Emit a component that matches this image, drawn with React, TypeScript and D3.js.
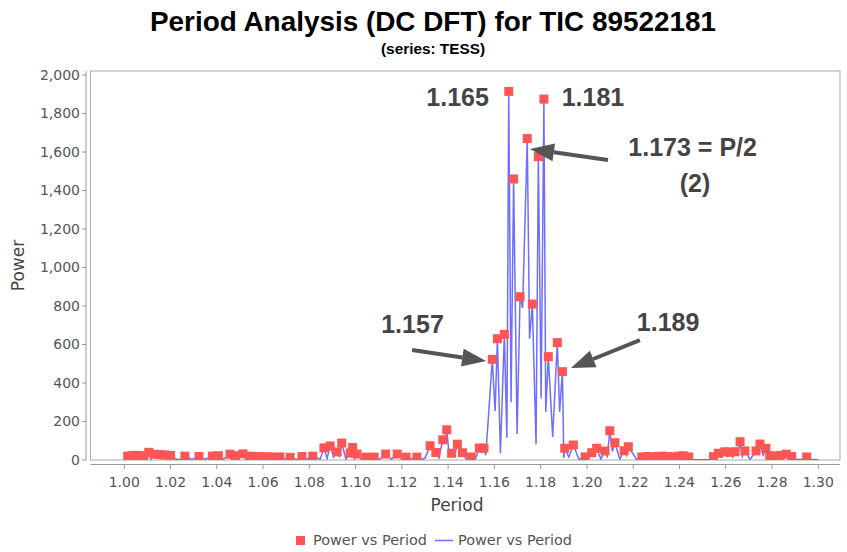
import React from 'react';
import { scaleLinear, line, curveLinear, range } from 'd3';

// top hits (red squares): [period, power]
const peaks: [number, number][] = [
  [1.0015, 20], [1.0038, 24], [1.0061, 24], [1.0084, 22], [1.0106, 40], [1.0129, 30], [1.0152, 28],
  [1.0175, 26], [1.02, 24], [1.0262, 20], [1.0323, 18], [1.0381, 20], [1.0407, 22], [1.0457, 30],
  [1.0478, 22], [1.0513, 32], [1.054, 20], [1.0565, 18], [1.059, 18], [1.0613, 16], [1.0636, 16],
  [1.0673, 16], [1.0717, 14], [1.0768, 18], [1.0815, 20], [1.0863, 63], [1.089, 73], [1.092, 42],
  [1.094, 88], [1.0976, 36], [1.0987, 65], [1.1006, 31], [1.1045, 15], [1.108, 15], [1.113, 31],
  [1.118, 31], [1.1218, 15], [1.1265, 15],
  [1.1322, 74], [1.1347, 39], [1.1377, 105], [1.1394, 157], [1.1415, 35], [1.144, 82], [1.1462, 38],
  [1.15, 16], [1.1535, 62], [1.1555, 62], [1.1591, 523], [1.1613, 630], [1.1643, 653], [1.1662, 1915],
  [1.1683, 1460], [1.1711, 848], [1.1742, 1670], [1.1764, 810], [1.179, 1576], [1.1814, 1875],
  [1.1833, 537], [1.1872, 610], [1.1894, 459], [1.1904, 61], [1.1941, 78], [1.1992, 16], [1.2021, 38],
  [1.2042, 61], [1.2078, 47], [1.2099, 152], [1.2121, 90], [1.2161, 48], [1.2179, 69],
  [1.2237, 16], [1.226, 18], [1.2282, 16], [1.2305, 18], [1.2327, 20], [1.235, 18], [1.2372, 16],
  [1.2395, 20], [1.2417, 22], [1.244, 16],
  [1.2547, 17], [1.2568, 35], [1.2597, 43], [1.2618, 40], [1.264, 43], [1.2662, 95], [1.2683, 47],
  [1.2731, 47], [1.2748, 83], [1.2774, 61], [1.279, 22], [1.2812, 20], [1.2835, 24], [1.2862, 30],
  [1.2885, 18], [1.295, 16],
];

// periodogram points between the hits (only on the blue line)
const troughs: [number, number][] = [
  [1.0, 12], [1.0027, 10], [1.005, 12], [1.0073, 10], [1.0095, 8], [1.0115, 4], [1.014, 12],
  [1.0163, 10], [1.0188, 8], [1.0227, 3], [1.0242, 2], [1.0292, 3], [1.035, 4], [1.0394, 8],
  [1.043, 5], [1.0468, 10], [1.0495, 4], [1.0527, 10], [1.0553, 6], [1.0578, 8], [1.0602, 6],
  [1.0625, 8], [1.0655, 4], [1.0695, 5], [1.0745, 3], [1.079, 6], [1.0847, 4], [1.0877, 8],
  [1.0905, 15], [1.093, 20], [1.0958, 5], [1.0982, 20], [1.0996, 8], [1.1025, 4], [1.1062, 5],
  [1.1105, 4], [1.1155, 5], [1.12, 4], [1.124, 5], [1.128, 2], [1.13, 10],
  [1.1335, 40], [1.136, 10], [1.1386, 90], [1.1405, 20], [1.1428, 30], [1.1452, 20], [1.1478, 5],
  [1.1518, 5], [1.1545, 40], [1.1562, 25], [1.157, 150], [1.1603, 255], [1.1626, 35], [1.1654, 115],
  [1.1672, 300], [1.1698, 135], [1.1722, 790], [1.1752, 630], [1.178, 80], [1.1802, 320],
  [1.1822, 250], [1.1852, 120], [1.1882, 250], [1.19, 12], [1.1922, 15], [1.1966, 3], [1.2005, 8],
  [1.2032, 20], [1.206, 5], [1.2088, 20], [1.211, 45], [1.2142, 5], [1.217, 25], [1.2215, 3],
  [1.2248, 5], [1.2271, 4], [1.2294, 6], [1.2316, 4], [1.2338, 5], [1.2361, 4], [1.2384, 6],
  [1.2406, 4], [1.2428, 5], [1.2455, 2], [1.25, 1], [1.2535, 3], [1.2557, 10], [1.2583, 15],
  [1.2608, 20], [1.263, 15], [1.2652, 25], [1.2672, 18], [1.2705, 3], [1.274, 40], [1.2762, 25],
  [1.2782, 8], [1.28, 6], [1.2822, 5], [1.2848, 8], [1.2875, 6], [1.291, 2], [1.2935, 3],
  [1.297, 2], [1.3, 1],
];

const xTicks = range(0, 16).map((i) => 1 + i * 0.02);
const yTicks = range(0, 11).map((i) => i * 200);

// annotation text, anchored in data space
const notes = [
  { text: '1.165', period: 1.1441, power: 1839 },
  { text: '1.181', period: 1.2026, power: 1839 },
  { text: '1.173 = P/2', period: 1.2457, power: 1579 },
  { text: '(2)', period: 1.2467, power: 1392 },
  { text: '1.157', period: 1.1246, power: 660 },
  { text: '1.189', period: 1.2351, power: 670 },
];

const arrows = [
  { from: [1.2091, 1559], to: [1.1754, 1616] },
  { from: [1.1244, 571], to: [1.1564, 514] },
  { from: [1.2229, 623], to: [1.1931, 478] },
];

const W = 847;
const H = 552;
const left = 90.5;
const right = 840;
const top = 71;
const bottom = 460;

export default function App() {
  const x = scaleLinear().domain([0.9854, 1.3094]).range([left, right]);
  const y = scaleLinear().domain([0, 2021]).range([bottom, top]);

  const all = [...peaks, ...troughs].sort((a, b) => a[0] - b[0]);
  const path = line<[number, number]>()
    .x((d) => x(d[0]))
    .y((d) => y(d[1]))
    .curve(curveLinear)(all);

  const tickFont = { fontFamily: 'DejaVu Sans', fontSize: 14, fill: '#555' };

  return (
    <svg width={W} height={H} style={{ position: 'absolute', left: 0, top: 0 }}>
      <rect width={W} height={H} fill="#fff" />
      <defs>
        <clipPath id="plot">
          <rect x={left} y={top} width={right - left} height={bottom - top} />
        </clipPath>
      </defs>

      <text x={433} y={31} textAnchor="middle" fontFamily="Liberation Sans" fontWeight="bold" fontSize={28}
        textLength={566} lengthAdjust="spacingAndGlyphs" fill="#000">
        Period Analysis (DC DFT) for TIC 89522181
      </text>
      <text x={433} y={54} textAnchor="middle" fontFamily="Liberation Sans" fontWeight="bold" fontSize={14.5}
        textLength={104} lengthAdjust="spacingAndGlyphs" fill="#000">
        (series: TESS)
      </text>

      <rect x={left} y={top} width={right - left} height={bottom - top} fill="#fff" stroke="#aaa" />

      <g clipPath="url(#plot)">
        <path d={path ?? ''} fill="none" stroke="#5555ff" strokeOpacity={0.85} strokeWidth={1.5} />
        {peaks.map((d, i) => (
          <rect key={i} x={x(d[0]) - 4.5} y={y(d[1]) - 4.5} width={9} height={9} fill="#ff5555" />
        ))}
      </g>

      {/* y axis */}
      <line x1={86} x2={86} y1={top} y2={bottom} stroke="#999" />
      {yTicks.map((t) => (
        <g key={t}>
          <line x1={82} x2={86} y1={y(t)} y2={y(t)} stroke="#999" />
          <text x={80} y={y(t)} dy="0.35em" textAnchor="end" {...tickFont}>
            {t.toLocaleString('en-US')}
          </text>
        </g>
      ))}
      <text transform={`translate(24,${(top + bottom) / 2}) rotate(-90)`} textAnchor="middle"
        fontFamily="DejaVu Sans" fontSize={17} fill="#444">
        Power
      </text>

      {/* x axis */}
      <line x1={left} x2={right} y1={464.5} y2={464.5} stroke="#999" />
      {xTicks.map((t) => (
        <g key={t}>
          <line x1={x(t)} x2={x(t)} y1={464.5} y2={469} stroke="#999" />
          <text x={x(t)} y={487} textAnchor="middle" {...tickFont}>
            {t.toFixed(2)}
          </text>
        </g>
      ))}
      <text x={457} y={511} textAnchor="middle" fontFamily="DejaVu Sans" fontSize={17} fill="#444">
        Period
      </text>

      {/* annotations */}
      {notes.map((n) => (
        <text key={n.text} x={x(n.period)} y={y(n.power)} textAnchor="middle" fontFamily="Liberation Sans"
          fontWeight="bold" fontSize={25} fill="#444">
          {n.text}
        </text>
      ))}
      {arrows.map((a, i) => {
        const x1 = x(a.from[0]);
        const y1 = y(a.from[1]);
        const x2 = x(a.to[0]);
        const y2 = y(a.to[1]);
        const ang = Math.atan2(y2 - y1, x2 - x1);
        const len = 24;
        const hw = 9;
        const bx = x2 - len * Math.cos(ang);
        const by = y2 - len * Math.sin(ang);
        const px = -Math.sin(ang) * hw;
        const py = Math.cos(ang) * hw;
        return (
          <g key={i}>
            <line x1={x1} y1={y1} x2={bx} y2={by} stroke="#555" strokeWidth={4} />
            <polygon points={`${x2},${y2} ${bx + px},${by + py} ${bx - px},${by - py}`} fill="#555" />
          </g>
        );
      })}

      {/* legend */}
      <rect x={296} y={536} width={9} height={9} fill="#ff5555" />
      <text x={313} y={545} fontFamily="DejaVu Sans" fontSize={14} textLength={114}
        lengthAdjust="spacingAndGlyphs" fill="#555">Power vs Period</text>
      <line x1={435} x2={453} y1={540.5} y2={540.5} stroke="#5555ff" strokeOpacity={0.85} strokeWidth={1.5} />
      <text x={458} y={545} fontFamily="DejaVu Sans" fontSize={14} textLength={114}
        lengthAdjust="spacingAndGlyphs" fill="#555">Power vs Period</text>
    </svg>
  );
}
